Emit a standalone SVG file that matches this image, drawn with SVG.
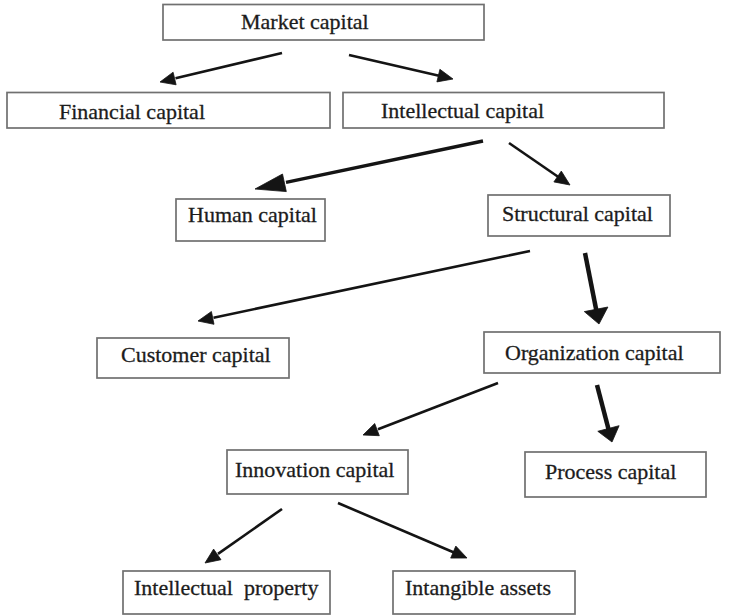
<svg xmlns="http://www.w3.org/2000/svg" width="741" height="616" viewBox="0 0 741 616">
  <style>
    .box { fill: #ffffff; stroke: #707070; stroke-width: 1.7; }
    .label { font-family: "Liberation Serif", "Times New Roman", serif; font-size: 22px; fill: #1c1c1c; stroke: #1c1c1c; stroke-width: 0.3; white-space: pre; }
    .edge { stroke: #141414; fill: none; stroke-linecap: butt; }
    .thin { stroke-width: 2.6; }
    .bold { stroke-width: 4.5; }
    .head { fill: #141414; stroke: #141414; stroke-width: 0.8; stroke-linejoin: miter; }
  </style>
  <rect width="741" height="616" fill="#ffffff"/>

  <!-- capital tree nodes -->
  <g id="market-capital">
    <rect class="box" x="163" y="4.5" width="321" height="35.5"/>
    <text class="label" x="241" y="29">Market capital</text>
  </g>
  <g id="financial-capital">
    <rect class="box" x="7" y="92.5" width="323" height="35.5"/>
    <text class="label" x="59" y="119">Financial capital</text>
  </g>
  <g id="intellectual-capital">
    <rect class="box" x="343" y="92.5" width="321" height="35.5"/>
    <text class="label" x="381" y="118">Intellectual capital</text>
  </g>
  <g id="human-capital">
    <rect class="box" x="176" y="199" width="149" height="42"/>
    <text class="label" x="188" y="222">Human capital</text>
  </g>
  <g id="structural-capital">
    <rect class="box" x="488" y="195" width="182" height="41"/>
    <text class="label" x="502" y="221">Structural capital</text>
  </g>
  <g id="customer-capital">
    <rect class="box" x="97" y="338" width="192" height="40"/>
    <text class="label" x="121" y="362">Customer capital</text>
  </g>
  <g id="organization-capital">
    <rect class="box" x="484" y="332" width="236" height="41"/>
    <text class="label" x="505" y="360">Organization capital</text>
  </g>
  <g id="innovation-capital">
    <rect class="box" x="227" y="450" width="181" height="44"/>
    <text class="label" x="235" y="477">Innovation capital</text>
  </g>
  <g id="process-capital">
    <rect class="box" x="525" y="452" width="181" height="45"/>
    <text class="label" x="545" y="479">Process capital</text>
  </g>
  <g id="intellectual-property">
    <rect class="box" x="123" y="571" width="207" height="43"/>
    <text class="label" x="134" y="595">Intellectual  property</text>
  </g>
  <g id="intangible-assets">
    <rect class="box" x="393" y="571" width="182" height="43"/>
    <text class="label" x="405" y="595">Intangible assets</text>
  </g>

  <!-- connectors: shafts end at the base of each arrowhead -->
  <g id="connectors">
    <line class="edge thin" x1="282" y1="53" x2="175.5" y2="78.3"/>
    <polygon class="head" points="160,82 173.1,72.2 176.1,84.8"/>

    <line class="edge thin" x1="349" y1="55" x2="439" y2="75.7"/>
    <polygon class="head" points="453,79 436.9,81.9 439.9,69.3"/>

    <line class="edge" stroke-width="3.4" x1="483" y1="141" x2="286" y2="182.4"/>
    <polygon class="head" points="255,189 282.5,174 286.3,191.6"/>

    <line class="edge thin" x1="509" y1="143" x2="558.4" y2="177"/>
    <polygon class="head" points="570,185 553.9,181.9 561.3,171.1"/>

    <line class="edge thin" x1="530" y1="251" x2="213.5" y2="317.7"/>
    <polygon class="head" points="198,321 211.4,311.5 214,324.3"/>

    <line class="edge bold" x1="585" y1="253" x2="596.3" y2="310.3"/>
    <polygon class="head" points="599,324 584.3,311.6 607.9,307"/>

    <line class="edge thin" x1="498" y1="383" x2="378" y2="429.2"/>
    <polygon class="head" points="363,435 374.7,423.5 379.3,435.7"/>

    <line class="edge bold" x1="597" y1="385" x2="608.6" y2="429.5"/>
    <polygon class="head" points="612,442 597.8,431.3 619.1,425.7"/>

    <line class="edge thin" x1="282" y1="509" x2="218" y2="553.9"/>
    <polygon class="head" points="205,563 213.6,549.1 221,559.7"/>

    <line class="edge thin" x1="338" y1="503" x2="454" y2="552.5"/>
    <polygon class="head" points="467,558 450.7,558.1 455.8,546.1"/>
  </g>
</svg>
